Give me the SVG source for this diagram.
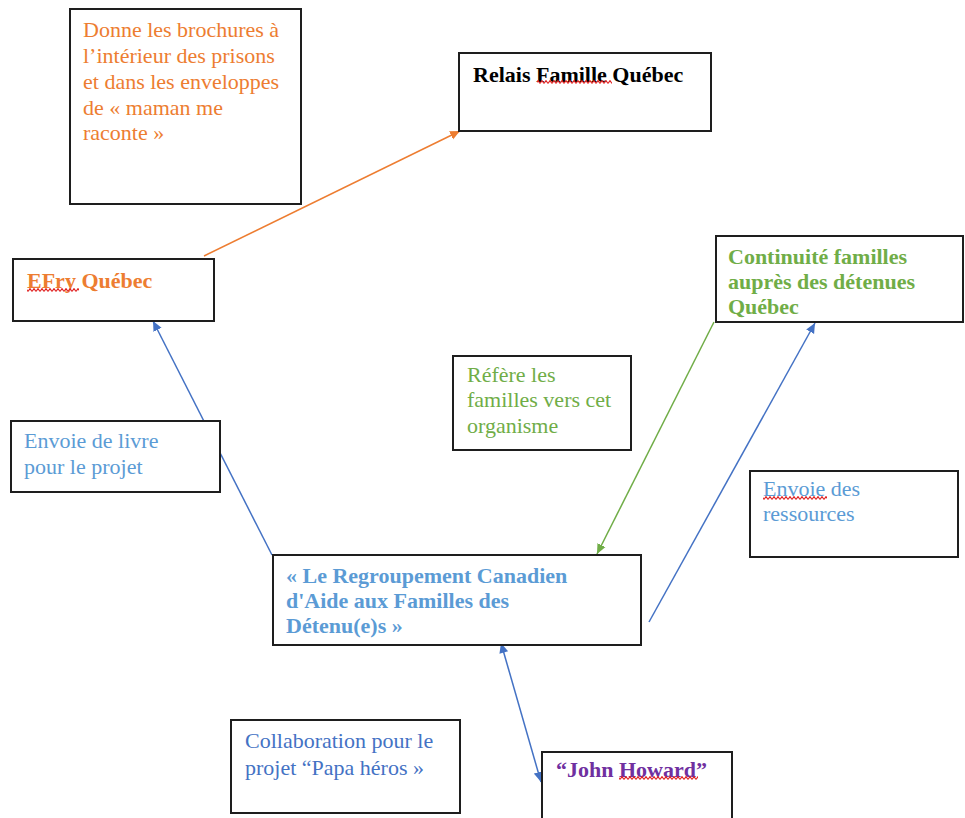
<svg xmlns="http://www.w3.org/2000/svg" width="965" height="818" viewBox="0 0 965 818">
<style>
  text { font-family: "Liberation Serif", "Times New Roman", "DejaVu Serif", serif; font-size: 22px; }
  .b { font-weight: bold; }
  .box { fill: #fff; stroke: #1e1e1e; stroke-width: 2; }
  .orange { fill: #ED7D31; }
  .green { fill: #70AD47; }
  .lblue { fill: #5B9BD5; }
  .dblue { fill: #4472C4; }
  .purple { fill: #7030A0; }
  .black { fill: #000; }
  .conn { fill: none; stroke-width: 1.5; }
</style>
<defs>
  <marker id="aOrange" markerUnits="userSpaceOnUse" markerWidth="12" markerHeight="10" refX="10" refY="5" orient="auto">
    <path d="M0,0.5 L10,5 L0,9.5 z" fill="#ED7D31"/>
  </marker>
  <marker id="aGreen" markerUnits="userSpaceOnUse" markerWidth="12" markerHeight="10" refX="10" refY="5" orient="auto">
    <path d="M0,0.5 L10,5 L0,9.5 z" fill="#70AD47"/>
  </marker>
  <marker id="aBlue" markerUnits="userSpaceOnUse" markerWidth="12" markerHeight="10" refX="10" refY="5" orient="auto">
    <path d="M0,0.5 L10,5 L0,9.5 z" fill="#4472C4"/>
  </marker>
  <marker id="aBlueStart" markerUnits="userSpaceOnUse" markerWidth="12" markerHeight="10" refX="0" refY="5" orient="auto">
    <path d="M10,0.5 L0,5 L10,9.5 z" fill="#4472C4"/>
  </marker>
  <pattern id="squiggle" patternUnits="userSpaceOnUse" width="4" height="4">
    <path d="M0,3.4 L2,0.6 L4,3.4" fill="none" stroke="#E02020" stroke-width="1.1"/>
  </pattern>
</defs>
<rect width="965" height="818" fill="#fff"/>

<g id="connectors">
  <line class="conn" x1="204" y1="256" x2="460" y2="131" stroke="#ED7D31" marker-end="url(#aOrange)"/>
  <line class="conn" x1="272" y1="555" x2="153" y2="321" stroke="#4472C4" marker-end="url(#aBlue)"/>
  <line class="conn" x1="714" y1="322" x2="597" y2="554" stroke="#70AD47" marker-end="url(#aGreen)"/>
  <line class="conn" x1="649" y1="622" x2="815" y2="323" stroke="#4472C4" marker-end="url(#aBlue)"/>
  <line class="conn" x1="501" y1="643" x2="541" y2="782" stroke="#4472C4" marker-start="url(#aBlueStart)" marker-end="url(#aBlue)"/>
</g>

<g id="node-brochures">
  <rect class="box" x="70" y="9" width="231" height="195"/>
  <text class="orange" x="83" y="37">Donne les brochures à</text>
  <text class="orange" x="83" y="63">l’intérieur des prisons</text>
  <text class="orange" x="83" y="89">et dans les enveloppes</text>
  <text class="orange" x="83" y="115">de « maman me</text>
  <text class="orange" x="83" y="140">raconte »</text>
</g>

<g id="node-relais">
  <rect class="box" x="459" y="53" width="252" height="78"/>
  <text class="b black" x="473" y="82">Relais Famille Québec</text>
  <rect x="537" y="80" width="75" height="4" fill="url(#squiggle)"/>
</g>

<g id="node-efry">
  <rect class="box" x="13" y="259" width="201" height="62"/>
  <text class="b orange" x="27" y="288">EFry Québec</text>
  <rect x="27" y="288" width="52" height="4" fill="url(#squiggle)"/>
</g>

<g id="node-continuite">
  <rect class="box" x="716" y="236" width="247" height="86"/>
  <text class="b green" x="728" y="264">Continuité familles</text>
  <text class="b green" x="728" y="289">auprès des détenues</text>
  <text class="b green" x="728" y="314">Québec</text>
</g>

<g id="node-refere">
  <rect class="box" x="453" y="356" width="178" height="94"/>
  <text class="green" x="467" y="382">Réfère les</text>
  <text class="green" x="467" y="407">familles vers cet</text>
  <text class="green" x="467" y="433">organisme</text>
</g>

<g id="node-livre">
  <rect class="box" x="11" y="421" width="209" height="71"/>
  <text class="lblue" x="24" y="448">Envoie de livre</text>
  <text class="lblue" x="24" y="474">pour le projet</text>
</g>

<g id="node-ressources">
  <rect class="box" x="750" y="471" width="208" height="86"/>
  <text class="lblue" x="763" y="496">Envoie des</text>
  <text class="lblue" x="763" y="521">ressources</text>
  <rect x="763" y="496" width="64" height="4" fill="url(#squiggle)"/>
</g>

<g id="node-regroupement">
  <rect class="box" x="273" y="555" width="368" height="90"/>
  <text class="b lblue" x="286" y="583">« Le Regroupement Canadien</text>
  <text class="b lblue" x="286" y="608">d'Aide aux Familles des</text>
  <text class="b lblue" x="286" y="633">Détenu(e)s »</text>
</g>

<g id="node-collaboration">
  <rect class="box" x="231" y="720" width="229" height="93"/>
  <text class="dblue" x="245" y="748">Collaboration pour le</text>
  <text class="dblue" x="245" y="775">projet “Papa héros »</text>
</g>

<g id="node-johnhoward">
  <rect class="box" x="542" y="752" width="190" height="80"/>
  <text class="b purple" x="556" y="777">“John Howard”</text>
  <rect x="619" y="776" width="79" height="4" fill="url(#squiggle)"/>
</g>
</svg>
